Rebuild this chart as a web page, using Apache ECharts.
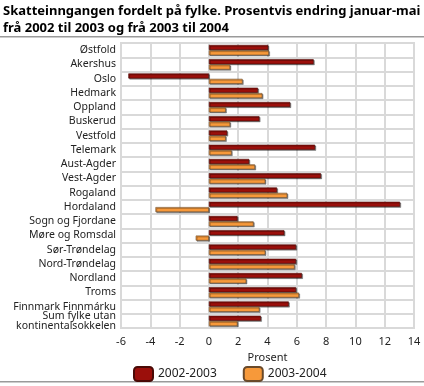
<!DOCTYPE html>
<html><head><meta charset="utf-8">
<script src="https://cdn.jsdelivr.net/npm/echarts@6/dist/echarts.min.js"></script>
<style>html,body{margin:0;padding:0;background:#fff}#c{width:424px;height:386px}</style>
</head><body><div id="c"></div>
<script>
const categories = ["Østfold","Akershus","Oslo","Hedmark","Oppland","Buskerud","Vestfold","Telemark","Aust-Agder","Vest-Agder","Rogaland","Hordaland","Sogn og Fjordane","Møre og Romsdal","Sør-Trøndelag","Nord-Trøndelag","Nordland","Troms","Finnmark Finnmárku","Sum fylke utan\nkontinentalsokkelen"];
const s2002_2003 = [4.05, 7.15, -5.5, 3.35, 5.55, 3.45, 1.25, 7.25, 2.75, 7.65, 4.65, 13.05, 1.95, 5.15, 5.95, 5.95, 6.35, 5.95, 5.45, 3.55];
const s2003_2004 = [4.1, 1.45, 2.3, 3.65, 1.15, 1.45, 1.15, 1.55, 3.15, 3.85, 5.35, -3.65, 3.05, -0.9, 3.85, 5.85, 2.55, 6.15, 3.45, 1.95];
const xTicks = {min: -6, max: 14, interval: 2};
const seriesNames = ["2002-2003", "2003-2004"];

const chart = echarts.init(document.getElementById('c'));
const font = "Noto Sans";
const grid = '#d9d9d9';
chart.setOption({
  animation: false,
  textStyle: {fontFamily: font},
  grid: {left: 121, right: 10, top: 43, bottom: 58, containLabel: false, show: true, borderColor: grid, borderWidth: 2, backgroundColor: 'transparent'},
  graphic: [
    {type: 'text', left: 3, top: 3, style: {text: 'Skatteinngangen fordelt på fylke. Prosentvis endring januar-mai\nfrå 2002 til 2003 og frå 2003 til 2004', font: 'bold 13px ' + font, fill: '#000', lineHeight: 17}},
    {type: 'rect', shape: {x: 0, y: 36, width: 424, height: 1.5}, style: {fill: '#9a9a9a'}},
    {type: 'rect', shape: {x: 0, y: 381, width: 424, height: 1.5}, style: {fill: '#9a9a9a'}}
  ],
  legend: {
    left: 133, top: 366, padding: 0, itemWidth: 19, itemHeight: 14, itemGap: 26,
    textStyle: {fontSize: 12, color: '#222', fontFamily: font},
    data: seriesNames
  },
  xAxis: {
    type: 'value', min: xTicks.min, max: xTicks.max, interval: xTicks.interval,
    name: 'Prosent', nameLocation: 'middle', nameGap: 22,
    nameTextStyle: {fontSize: 11, color: '#222'},
    axisLine: {show: false},
    axisTick: {show: false},
    axisLabel: {fontSize: 11, color: '#222', margin: 8},
    splitLine: {show: true, lineStyle: {color: grid, width: 2}}
  },
  yAxis: {
    type: 'category', data: categories, inverse: true,
    axisLine: {show: false},
    axisTick: {show: false},
    axisLabel: {fontSize: 10.5, color: '#222', margin: 5, lineHeight: 10, interval: 0},
    splitLine: {show: true, interval: 0, lineStyle: {color: grid, width: 2}}
  },
  series: [
    {name: seriesNames[0], type: 'bar', data: s2002_2003, barWidth: 5, barGap: '8%',
     itemStyle: {color: '#9b0f0b', borderColor: '#4a0a06', borderWidth: 0.6, shadowColor: 'rgba(0,0,0,0.45)', shadowOffsetX: 1, shadowOffsetY: 1}},
    {name: seriesNames[1], type: 'bar', data: s2003_2004, barWidth: 5,
     itemStyle: {color: '#f7993a', borderColor: '#6a4a2a', borderWidth: 0.6, shadowColor: 'rgba(0,0,0,0.45)', shadowOffsetX: 1, shadowOffsetY: 1}}
  ]
});
</script></body></html>
